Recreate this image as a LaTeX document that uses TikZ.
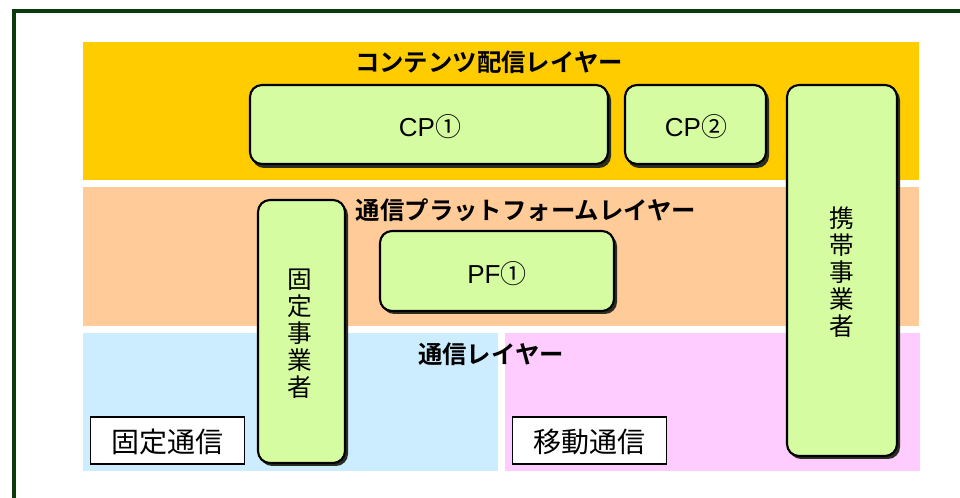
\documentclass[tikz,border=0pt]{standalone}
\usepackage{fontspec}
\setmainfont{Noto Sans CJK JP}
\newfontfamily\jpfont{Noto Sans CJK JP}
\newfontfamily\jpbold{Noto Sans CJK JP Bold}
\newfontfamily\latfont{Liberation Sans}
\definecolor{framegreen}{HTML}{0B3A0B}
\definecolor{layyellow}{HTML}{FFCC00}
\definecolor{layorange}{HTML}{FFCC99}
\definecolor{layblue}{HTML}{CCECFF}
\definecolor{laypink}{HTML}{FFCCFF}
\definecolor{boxgreen}{HTML}{D6FCA2}
\definecolor{shadowdark}{HTML}{2A2F22}
\tikzset{
  band/.style={draw=none,inner sep=0pt},
  greenbox/.style={draw=black,line width=1.6pt,fill=boxgreen,rounded corners=9pt},
  boxshadow/.style={fill=shadowdark,draw=none,rounded corners=9pt},
  titletext/.style={font=\jpbold\fontsize{18.3pt}{20pt}\selectfont,inner sep=0pt},
  boxtext/.style={font=\latfont\fontsize{19.5pt}{22pt}\selectfont,inner sep=0pt},
  verttext/.style={font=\jpfont\fontsize{18.5pt}{20.3pt}\selectfont,align=center,inner sep=0pt},
  labelbox/.style={draw=black,line width=1.1pt,fill=white,inner sep=0pt},
  labeltext/.style={font=\jpfont\fontsize{21pt}{22pt}\selectfont,inner sep=0pt}
}
\begin{document}
\begin{tikzpicture}[x=0.75pt,y=-0.75pt]
\useasboundingbox (0,0) rectangle (960,498);
\clip (0,0) rectangle (960,498);
\fill[white] (0,0) rectangle (960,498);
% outer frame (runs off the right and bottom edge)
\draw[framegreen,line width=2.4pt] (14,11) rectangle (990,530);
% layer bands
\fill[layyellow] (83,42) rectangle (919,180);
\fill[layorange] (83,187) rectangle (919,326);
\fill[layblue] (83,333) rectangle (498,471);
\fill[laypink] (505,333) rectangle (920,471);
% titles
\node[titletext] (t1) at (489,62) {コンテンツ配信レイヤー};
\node[titletext] (t2) at (526,210) {通信プラットフォームレイヤー};
\node[titletext] (t3) at (491,354) {通信レイヤー};
% CP1
\fill[boxshadow] (252,88) rectangle (611,168);
\draw[greenbox] (250,85) rectangle (608,164);
\node[boxtext] (cp1) at (430,127) {CP{\jpfont ①}};
% CP2
\fill[boxshadow] (627,88) rectangle (769,168);
\draw[greenbox] (625,85) rectangle (766,164);
\node[boxtext] (cp2) at (696,127) {CP{\jpfont ②}};
% mobile carrier
\fill[boxshadow] (789,88) rectangle (900,459);
\draw[greenbox] (787,85) rectangle (897,456);
\node[verttext] (mob) at (842,272) {携\\帯\\事\\業\\者};
% fixed carrier
\fill[boxshadow] (260,203) rectangle (348,466);
\draw[greenbox] (258,200) rectangle (345,463);
\node[verttext] (fix) at (300,334) {固\\定\\事\\業\\者};
% PF1
\fill[boxshadow] (382,234) rectangle (617,314);
\draw[greenbox] (380,231) rectangle (614,311);
\node[boxtext] (pf1) at (497,274) {PF{\jpfont ①}};
% labels
\node[labelbox,minimum width=154pt*0.75,minimum height=47pt*0.75] (lf) at (167.5,440.5) {};
\node[labeltext] (lft) at (167.5,442) {固定通信};
\node[labelbox,minimum width=154pt*0.75,minimum height=47pt*0.75] (lm) at (589.5,440.5) {};
\node[labeltext] (lmt) at (589.5,442) {移動通信};
\end{tikzpicture}
\end{document}
